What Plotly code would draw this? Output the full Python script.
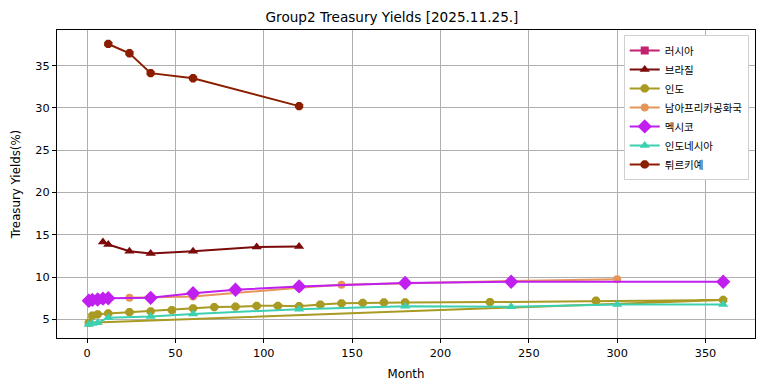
import plotly.graph_objects as go

title = "Group2 Treasury Yields [2025.11.25.]"
x_label = "Month"
y_label = "Treasury Yields(%)"

# Series data (month, yield %)
russia_m = [None]
russia_y = [None]

brazil_m = [9, 12, 24, 36, 60, 96, 120]
brazil_y = [14.15, 13.85, 13.05, 12.8, 13.05, 13.55, 13.6]

india_m = [3, 6, 12, 24, 36, 48, 60, 72, 84, 96, 108, 120, 132, 144, 156, 168, 180, 228, 288, 360, 1]
india_y = [5.45, 5.6, 5.7, 5.85, 5.95, 6.1, 6.3, 6.45, 6.5, 6.6, 6.6, 6.55, 6.75, 6.9, 6.95, 7.0, 7.0, 7.05, 7.2, 7.3, 4.6]

safrica_m = [24, 60, 120, 144, 240, 300]
safrica_y = [7.55, 7.7, 8.75, 9.1, 9.55, 9.75]

mexico_m = [1, 3, 6, 9, 12, 36, 60, 84, 120, 180, 240, 360]
mexico_y = [7.2, 7.3, 7.35, 7.45, 7.5, 7.55, 8.1, 8.5, 8.9, 9.3, 9.45, 9.45]

indonesia_m = [1, 3, 6, 12, 36, 60, 120, 180, 240, 300, 360]
indonesia_y = [4.4, 4.5, 4.6, 5.2, 5.35, 5.65, 6.2, 6.55, 6.5, 6.75, 6.75]

turkey_m = [12, 24, 36, 60, 120]
turkey_y = [37.55, 36.45, 34.1, 33.5, 30.2]

series = [
    ("러시아", russia_m, russia_y, "#c2226f", "square", 8),
    ("브라질", brazil_m, brazil_y, "#7d0a0a", "triangle-up", 9),
    ("인도", india_m, india_y, "#a89a22", "octagon", 9),
    ("남아프리카공화국", safrica_m, safrica_y, "#e6955a", "circle", 8),
    ("멕시코", mexico_m, mexico_y, "#c01ff0", "diamond", 11),
    ("인도네시아", indonesia_m, indonesia_y, "#3dd0b0", "triangle-up", 9),
    ("튀르키예", turkey_m, turkey_y, "#8b1e00", "octagon", 9),
]

fig = go.Figure()
for name, xs, ys, color, sym, size in series:
    fig.add_trace(go.Scatter(
        x=xs, y=ys, name=name, mode="lines+markers",
        line=dict(color=color, width=2),
        marker=dict(symbol=sym, size=size, color=color),
        showlegend=True,
    ))

# The page body adds an 8px offset, so the figure is sized to the remaining area.
W, H = 756, 383
font_fam = "DejaVu Sans, Noto Sans CJK KR, sans-serif"
fig.update_layout(
    width=W, height=H,
    margin=dict(l=49, r=9, t=22, b=53, autoexpand=False),
    paper_bgcolor="white", plot_bgcolor="white",
    font=dict(family=font_fam, color="black", size=11),
    title=dict(text=title, x=(392 - 8) / W, xanchor="center", y=1 - 9 / H, yanchor="middle",
               font=dict(size=13.6)),
    legend=dict(x=0.991, y=0.984, xanchor="right", yanchor="top",
                bgcolor="white", bordercolor="#d0d0d0", borderwidth=1,
                font=dict(size=10.5), tracegroupgap=0, itemwidth=30),
    showlegend=True,
)
fig.update_xaxes(
    range=[-17, 378], dtick=50, tick0=0, automargin=False,
    showgrid=True, gridcolor="#b0b0b0", gridwidth=1,
    showline=True, linecolor="black", linewidth=1, mirror=True,
    ticks="outside", ticklen=4, tickcolor="black",
    tickfont=dict(size=11.3), zeroline=False,
    title=dict(text=x_label, font=dict(size=11.8), standoff=11),
)
fig.update_yaxes(
    range=[2.8, 39.2], dtick=5, tick0=0, automargin=False,
    showgrid=True, gridcolor="#b0b0b0", gridwidth=1,
    showline=True, linecolor="black", linewidth=1, mirror=True,
    ticks="outside", ticklen=4, tickcolor="black",
    tickfont=dict(size=11.3), zeroline=False,
    title=dict(text=y_label, font=dict(size=11.8), standoff=12),
)

fig.write_html("out.html")
